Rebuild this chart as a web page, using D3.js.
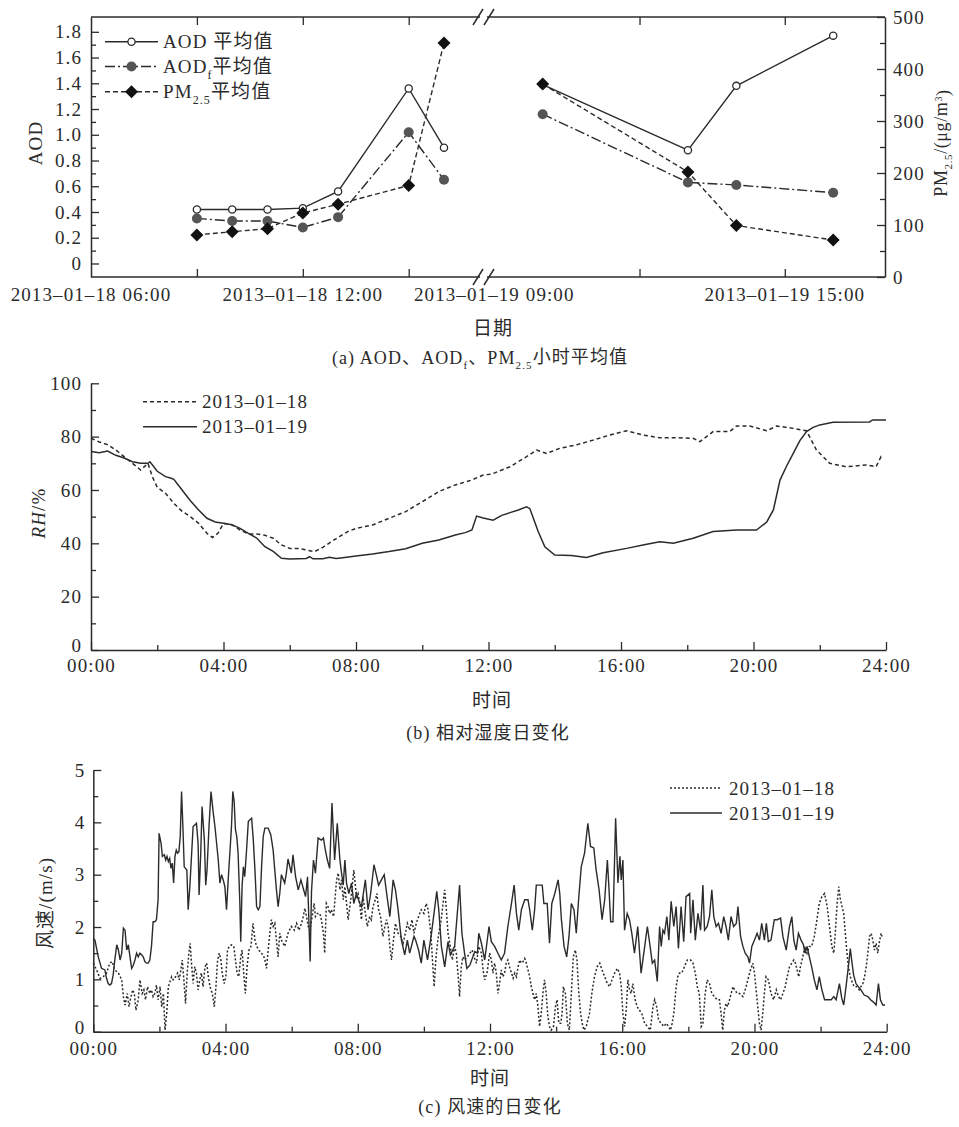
<!DOCTYPE html>
<html><head><meta charset="utf-8">
<script src="https://cdn.jsdelivr.net/npm/d3@7"></script>
<style>
body{margin:0;background:#fff;}
svg text{letter-spacing:1.1px;}
</style></head><body>
<script>
// ---------------- data: panel (a) ----------------
const hoursDay18 = [9, 10, 11, 12, 13, 15, 16];
const aodDay18   = [0.42, 0.42, 0.42, 0.43, 0.56, 1.36, 0.90];
const aodfDay18  = [0.35, 0.33, 0.33, 0.28, 0.36, 1.02, 0.65];
const pmDay18    = [81, 87, 93, 123, 140, 176, 450];
const hoursDay19 = [10, 13, 14, 16];
const aodDay19   = [1.39, 0.88, 1.38, 1.77];
const aodfDay19  = [1.16, 0.63, 0.61, 0.55];
const pmDay19    = [371, 202, 99, 71];
const aodTicks = [0, 0.2, 0.4, 0.6, 0.8, 1.0, 1.2, 1.4, 1.6, 1.8];
const pmTicks = [0, 100, 200, 300, 400, 500];
const dateLabels18 = [[6, "2013–01–18 06:00"], [12, "2013–01–18 12:00"]];
const dateLabels19 = [[9, "2013–01–19 09:00"], [15, "2013–01–19 15:00"]];

// ---------------- data: panel (b) relative humidity ----------------
const rh18 = [[0,79.4],[0.25,78],[0.5,77],[0.75,75],[1,72.5],[1.25,70],[1.5,67.5],[1.72,70],[1.85,65],[2,61],[2.25,58.75],[2.5,55],[2.75,52],[3,50],[3.25,47.5],[3.5,43.75],[3.67,42.2],[3.83,43.75],[4,47.5],[4.25,47],[4.5,45],[4.75,43.5],[5,43.5],[5.25,43],[5.5,41.9],[5.75,39.4],[6,38.1],[6.25,38.1],[6.5,37.5],[6.75,36.9],[7,38.5],[7.25,40.6],[7.5,42.5],[7.75,44.4],[8,45.6],[8.5,46.9],[9,49.4],[9.5,51.9],[10,55.6],[10.5,59.4],[11,61.9],[11.5,63.75],[11.84,65.6],[12.1,66],[12.65,68.7],[13.15,72.5],[13.45,75],[13.75,73.7],[14.15,75.6],[14.65,76.9],[15.16,78.7],[15.66,80.6],[16.17,82.2],[16.67,80.6],[17.17,79.6],[17.67,79.6],[18.18,79.4],[18.38,78.1],[18.78,81.9],[19.28,81.9],[19.49,84],[19.89,84],[20.4,82.2],[20.7,84],[21.2,83.1],[21.6,82.2],[21.9,75],[22.3,70],[22.8,68.7],[23.4,69.4],[23.7,68.7],[23.85,72.5],[23.92,71.9]];
const rh19 = [[0,74.4],[0.25,74],[0.5,74.6],[0.75,73],[1,72],[1.25,70.6],[1.5,70],[1.72,70],[1.78,70.6],[2,67],[2.25,65],[2.4,64.5],[2.5,64],[2.75,60],[3,56],[3.25,52.5],[3.5,49.4],[3.75,48],[4,47.5],[4.25,47],[4.5,45.6],[4.75,43.75],[5,42],[5.25,38.75],[5.5,37],[5.75,34.4],[6,34.1],[6.5,34.3],[6.6,35],[6.7,34.2],[7,34.2],[7.2,34.8],[7.4,34.3],[7.6,34.6],[8,35.25],[8.5,36],[9,36.9],[9.5,38],[10,40],[10.5,41.25],[11,43.1],[11.3,44],[11.5,45],[11.64,50.2],[11.84,49.5],[12.14,48.7],[12.4,50.5],[12.65,51.5],[12.9,52.5],[13.15,53.7],[13.25,53],[13.5,44.4],[13.7,38.7],[14.0,35.6],[14.5,35.4],[14.96,34.7],[15.46,36.5],[16.17,38.1],[16.7,39.5],[17.17,40.6],[17.58,40],[18.18,41.9],[18.78,44.4],[19.49,45],[20.09,45],[20.4,48],[20.6,52.5],[20.8,63.7],[21.0,69],[21.2,73.7],[21.4,78.5],[21.6,81.9],[21.8,83.5],[22.0,84.4],[22.4,85.4],[23.5,85.5],[23.6,86.25],[24,86.25]];

// ---------------- data: panel (c) wind speed ----------------
const wind18 = [[0.00,1.31],[0.10,1.18],[0.20,1.02],[0.30,1.05],[0.40,1.12],[0.50,1.31],[0.57,1.34],[0.65,1.18],[0.76,1.12],[0.86,0.99],[0.91,0.67],[0.96,0.51],[1.03,0.73],[1.08,0.48],[1.14,0.67],[1.19,0.80],[1.24,0.73],[1.29,0.41],[1.36,0.61],[1.41,0.99],[1.48,0.73],[1.53,0.80],[1.58,0.61],[1.64,0.86],[1.71,0.73],[1.76,0.80],[1.81,0.67],[1.86,0.73],[1.91,0.89],[1.96,0.61],[2.02,0.86],[2.07,0.48],[2.12,0.73],[2.17,0.03],[2.22,0.35],[2.27,0.86],[2.32,0.96],[2.37,1.05],[2.42,0.99],[2.49,1.05],[2.55,1.12],[2.60,0.99],[2.65,1.18],[2.69,1.37],[2.74,0.99],[2.79,0.54],[2.84,1.12],[2.89,1.50],[2.93,1.69],[2.97,1.31],[3.02,0.92],[3.07,1.24],[3.12,1.12],[3.17,0.80],[3.22,0.99],[3.27,1.12],[3.32,0.86],[3.38,1.24],[3.43,1.31],[3.48,1.05],[3.53,0.86],[3.60,0.73],[3.66,0.48],[3.71,0.86],[3.76,1.37],[3.81,1.50],[3.86,1.37],[3.90,1.12],[3.96,0.92],[4.01,1.05],[4.06,1.56],[4.11,1.63],[4.18,1.66],[4.25,1.63],[4.30,1.37],[4.35,1.12],[4.40,1.05],[4.46,1.43],[4.50,1.56],[4.55,1.12],[4.60,0.73],[4.65,1.24],[4.71,1.56],[4.77,1.63],[4.83,2.07],[4.89,1.75],[4.94,1.63],[5.01,1.56],[5.07,1.50],[5.14,1.47],[5.19,1.37],[5.24,1.21],[5.29,1.56],[5.34,1.88],[5.39,2.14],[5.44,2.01],[5.49,2.07],[5.54,1.75],[5.59,1.43],[5.64,1.88],[5.69,1.75],[5.79,1.63],[5.89,1.88],[5.99,2.01],[6.08,1.94],[6.15,2.07],[6.22,1.94],[6.30,2.07],[6.35,2.20],[6.40,2.36],[6.45,2.20],[6.50,2.01],[6.55,1.94],[6.62,2.20],[6.68,2.45],[6.72,2.20],[6.78,2.26],[6.85,2.26],[6.90,2.14],[6.96,1.88],[7.00,1.50],[7.05,2.45],[7.10,2.39],[7.15,2.26],[7.20,2.33],[7.27,2.20],[7.30,2.45],[7.36,2.90],[7.41,3.03],[7.46,2.71],[7.51,2.90],[7.56,2.52],[7.61,2.77],[7.66,2.45],[7.71,2.14],[7.76,2.39],[7.81,2.64],[7.88,3.09],[7.96,2.58],[8.01,2.64],[8.06,2.45],[8.11,2.14],[8.16,2.58],[8.23,2.26],[8.29,2.01],[8.36,2.20],[8.41,2.14],[8.46,2.39],[8.53,2.52],[8.58,2.64],[8.63,2.33],[8.69,2.20],[8.76,1.82],[8.82,2.01],[8.87,2.14],[8.92,2.01],[8.97,1.63],[9.02,1.37],[9.08,1.75],[9.14,2.07],[9.22,1.88],[9.30,1.82],[9.37,1.69],[9.44,1.88],[9.50,2.07],[9.57,1.94],[9.64,2.14],[9.70,1.88],[9.77,2.07],[9.84,2.20],[9.92,2.33],[10.00,2.26],[10.07,2.45],[10.13,2.33],[10.21,1.88],[10.26,1.37],[10.31,0.86],[10.36,1.37],[10.40,1.63],[10.45,1.88],[10.51,2.07],[10.58,2.45],[10.63,2.71],[10.68,2.33],[10.73,1.88],[10.80,1.63],[10.86,1.37],[10.93,1.63],[10.98,1.50],[11.03,1.12],[11.08,0.67],[11.13,1.24],[11.18,1.43],[11.23,1.37],[11.31,1.43],[11.39,1.50],[11.46,1.56],[11.52,1.43],[11.59,1.31],[11.66,1.63],[11.74,1.50],[11.79,1.18],[11.84,0.99],[11.91,1.12],[11.99,1.50],[12.04,1.37],[12.09,1.12],[12.14,1.31],[12.19,1.12],[12.24,0.73],[12.29,0.92],[12.34,1.18],[12.39,1.05],[12.44,1.12],[12.49,1.31],[12.54,1.37],[12.59,1.24],[12.65,1.12],[12.70,1.02],[12.75,1.12],[12.80,1.05],[12.85,1.24],[12.90,1.37],[12.95,1.31],[13.00,1.34],[13.05,1.40],[13.10,1.31],[13.15,1.18],[13.20,1.05],[13.25,0.86],[13.30,0.73],[13.35,0.61],[13.40,0.73],[13.45,0.48],[13.50,0.10],[13.55,0.35],[13.60,0.73],[13.65,0.99],[13.70,0.73],[13.75,0.29],[13.80,0.10],[13.85,0.03],[13.92,0.10],[13.98,0.48],[14.03,0.61],[14.08,0.16],[14.14,0.16],[14.18,0.35],[14.22,0.86],[14.28,0.73],[14.34,0.16],[14.40,0.03],[14.46,0.73],[14.52,1.43],[14.58,1.56],[14.63,1.37],[14.68,0.80],[14.74,0.35],[14.79,0.16],[14.84,0.03],[14.91,0.10],[15.01,0.35],[15.08,0.73],[15.16,1.05],[15.24,1.24],[15.32,1.31],[15.39,1.18],[15.47,1.05],[15.55,0.92],[15.62,0.86],[15.69,0.99],[15.77,1.12],[15.85,1.21],[15.92,1.12],[15.97,0.86],[16.02,0.35],[16.07,0.10],[16.12,0.41],[16.17,0.99],[16.22,0.80],[16.27,0.73],[16.32,0.92],[16.39,0.61],[16.45,0.48],[16.52,0.41],[16.59,0.35],[16.68,0.16],[16.76,0.10],[16.85,0.03],[16.93,0.48],[16.98,0.61],[17.04,0.48],[17.10,0.22],[17.18,0.16],[17.26,0.10],[17.33,0.16],[17.40,0.10],[17.46,0.03],[17.51,0.16],[17.56,0.35],[17.63,0.86],[17.68,1.05],[17.73,1.12],[17.80,1.12],[17.88,1.24],[17.97,1.37],[18.07,1.37],[18.14,1.31],[18.21,1.12],[18.27,0.86],[18.33,0.73],[18.39,0.10],[18.44,0.16],[18.51,0.73],[18.57,0.99],[18.64,0.92],[18.71,0.73],[18.79,0.67],[18.87,0.61],[18.94,0.61],[18.99,0.35],[19.04,0.03],[19.09,0.41],[19.14,0.54],[19.19,0.48],[19.27,0.67],[19.35,0.86],[19.40,0.80],[19.48,0.73],[19.55,0.73],[19.65,0.67],[19.72,0.80],[19.80,0.99],[19.88,1.18],[19.95,1.31],[20.00,1.12],[20.05,0.80],[20.10,0.48],[20.15,0.16],[20.20,0.03],[20.25,0.35],[20.30,0.73],[20.35,1.05],[20.42,0.99],[20.50,0.73],[20.58,0.61],[20.66,0.80],[20.73,0.67],[20.79,0.61],[20.86,0.73],[20.93,0.86],[20.99,1.05],[21.06,1.24],[21.13,1.31],[21.19,1.37],[21.24,1.31],[21.29,1.18],[21.34,1.05],[21.39,1.24],[21.46,1.43],[21.53,1.63],[21.59,1.50],[21.66,1.63],[21.73,1.63],[21.81,1.82],[21.89,2.14],[21.96,2.45],[22.04,2.58],[22.12,2.64],[22.20,2.39],[22.27,2.01],[22.34,1.63],[22.40,1.50],[22.45,1.94],[22.50,2.45],[22.55,2.77],[22.60,2.52],[22.65,2.39],[22.70,2.26],[22.74,1.94],[22.79,1.56],[22.84,1.24],[22.90,1.05],[22.97,0.92],[23.02,0.86],[23.10,0.86],[23.17,0.80],[23.22,0.86],[23.28,0.92],[23.33,1.05],[23.38,1.24],[23.43,1.50],[23.48,1.82],[23.53,1.88],[23.58,1.75],[23.63,1.56],[23.68,1.69],[23.73,1.50],[23.78,1.72],[23.83,1.88],[23.86,1.82]];
const wind19 = [[0.00,1.78],[0.05,1.75],[0.15,1.43],[0.25,1.21],[0.35,1.18],[0.40,1.02],[0.45,0.92],[0.50,0.89],[0.55,0.92],[0.60,1.08],[0.65,1.37],[0.71,1.66],[0.76,1.56],[0.81,1.37],[0.86,1.50],[0.91,1.98],[0.96,1.94],[1.01,1.56],[1.06,1.66],[1.11,1.43],[1.16,1.21],[1.21,1.27],[1.26,1.37],[1.31,1.50],[1.36,1.43],[1.41,1.50],[1.46,1.47],[1.51,1.43],[1.56,1.34],[1.61,1.31],[1.66,1.31],[1.71,1.37],[1.76,1.63],[1.81,2.10],[1.86,2.10],[1.91,2.14],[1.96,2.52],[1.99,3.79],[2.05,3.60],[2.09,3.35],[2.15,3.38],[2.19,3.28],[2.23,3.35],[2.27,3.25],[2.31,3.31],[2.35,3.12],[2.39,3.22],[2.43,2.84],[2.47,3.35],[2.51,3.47],[2.55,3.41],[2.59,3.44],[2.63,3.73],[2.67,4.59],[2.71,3.92],[2.75,3.15],[2.79,3.12],[2.83,3.09],[2.87,2.33],[2.92,2.77],[2.97,3.35],[3.02,3.92],[3.07,3.95],[3.12,3.98],[3.17,3.60],[3.20,2.61],[3.25,3.41],[3.29,4.30],[3.36,3.66],[3.40,2.80],[3.44,3.09],[3.50,3.92],[3.56,4.59],[3.63,4.17],[3.68,3.92],[3.73,3.60],[3.78,3.28],[3.83,2.84],[3.88,3.00],[3.93,2.90],[3.98,2.77],[4.03,2.33],[4.08,2.90],[4.13,3.41],[4.18,3.92],[4.22,4.59],[4.26,4.40],[4.30,3.86],[4.34,3.73],[4.38,3.41],[4.43,2.52],[4.46,1.72],[4.50,2.77],[4.54,3.15],[4.58,2.96],[4.63,3.41],[4.69,4.02],[4.79,4.08],[4.84,3.66],[4.89,3.09],[4.94,2.39],[4.99,2.33],[5.04,2.39],[5.09,3.15],[5.14,3.73],[5.19,3.89],[5.29,3.89],[5.37,3.76],[5.44,3.47],[5.49,3.09],[5.54,2.71],[5.59,2.39],[5.64,2.64],[5.69,3.00],[5.79,2.84],[5.84,3.03],[5.89,3.30],[5.99,3.03],[6.04,3.38],[6.12,2.96],[6.20,2.71],[6.28,2.90],[6.35,2.74],[6.42,2.58],[6.48,2.96],[6.56,1.34],[6.60,2.68],[6.66,3.28],[6.72,3.03],[6.80,3.70],[6.90,3.66],[6.96,3.70],[7.02,3.47],[7.08,3.28],[7.15,3.12],[7.22,4.37],[7.30,3.28],[7.38,3.98],[7.46,3.28],[7.51,3.03],[7.56,2.80],[7.61,3.28],[7.66,2.84],[7.73,2.64],[7.81,2.84],[7.88,2.45],[7.96,2.64],[8.06,2.45],[8.11,2.39],[8.23,2.90],[8.31,2.33],[8.39,2.64],[8.49,3.19],[8.56,3.00],[8.63,2.80],[8.80,3.00],[8.90,2.52],[8.97,2.20],[9.07,2.90],[9.14,2.71],[9.22,2.33],[9.32,1.75],[9.42,1.47],[9.50,1.75],[9.57,1.50],[9.70,1.82],[9.75,1.75],[9.84,1.56],[9.92,1.31],[10.00,1.75],[10.11,1.37],[10.23,1.88],[10.39,2.68],[10.45,2.33],[10.53,1.63],[10.63,1.24],[10.73,1.72],[10.80,1.47],[10.93,1.63],[11.08,2.80],[11.15,1.88],[11.23,1.50],[11.30,1.21],[11.39,1.27],[11.54,1.53],[11.62,1.50],[11.66,1.88],[11.74,1.69],[11.84,1.37],[11.97,2.01],[12.04,1.72],[12.14,1.63],[12.24,1.50],[12.34,1.37],[12.44,1.50],[12.54,2.01],[12.65,2.45],[12.73,2.80],[12.80,2.26],[12.87,1.94],[12.95,2.33],[13.05,2.52],[13.15,2.52],[13.20,2.33],[13.28,1.94],[13.35,2.33],[13.40,2.80],[13.50,2.80],[13.58,2.80],[13.63,2.45],[13.73,2.45],[13.80,1.69],[13.87,2.45],[13.96,2.64],[14.06,2.90],[14.11,2.64],[14.16,2.14],[14.24,1.63],[14.32,1.43],[14.39,1.82],[14.46,2.45],[14.54,2.33],[14.61,1.88],[14.68,2.52],[14.76,3.15],[14.86,3.41],[14.96,3.98],[15.04,3.54],[15.14,3.51],[15.21,3.09],[15.30,2.71],[15.39,2.14],[15.47,2.52],[15.55,3.28],[15.59,2.84],[15.65,2.10],[15.72,2.10],[15.80,4.08],[15.87,2.84],[15.93,3.35],[15.97,2.90],[16.02,3.28],[16.07,1.94],[16.15,2.26],[16.22,2.14],[16.29,1.88],[16.37,1.50],[16.47,2.01],[16.57,1.12],[16.68,1.63],[16.76,2.01],[16.83,1.69],[16.91,1.31],[16.98,1.37],[17.06,0.96],[17.13,2.01],[17.18,1.63],[17.23,1.94],[17.28,1.88],[17.35,2.20],[17.41,1.75],[17.48,2.49],[17.56,2.01],[17.63,2.39],[17.70,1.59],[17.78,2.39],[17.86,1.72],[17.93,2.58],[18.04,2.64],[18.07,1.88],[18.14,2.52],[18.21,1.75],[18.29,2.26],[18.37,1.94],[18.44,2.80],[18.49,1.94],[18.57,2.01],[18.64,2.20],[18.71,2.71],[18.77,2.20],[18.84,2.01],[18.91,2.07],[18.99,1.88],[19.07,2.20],[19.14,2.01],[19.21,1.75],[19.29,2.20],[19.37,2.01],[19.45,2.07],[19.50,2.39],[19.58,1.82],[19.65,1.63],[19.72,1.50],[19.80,1.43],[19.85,1.31],[19.92,1.63],[20.00,1.75],[20.08,1.88],[20.15,1.75],[20.22,2.07],[20.30,1.75],[20.36,2.07],[20.42,1.72],[20.50,1.75],[20.60,2.14],[20.69,2.14],[20.79,2.17],[20.86,1.82],[20.96,1.56],[21.06,2.01],[21.13,2.20],[21.19,1.75],[21.26,1.56],[21.33,1.88],[21.41,1.75],[21.48,1.66],[21.53,1.50],[21.59,1.63],[21.66,1.43],[21.73,1.24],[21.81,0.99],[21.89,0.80],[21.96,1.05],[22.04,0.80],[22.12,0.61],[22.22,0.61],[22.32,0.61],[22.40,0.67],[22.47,0.61],[22.57,0.92],[22.64,0.64],[22.70,0.51],[22.77,0.86],[22.84,1.24],[22.90,1.59],[22.94,1.37],[23.00,1.08],[23.07,0.92],[23.14,0.86],[23.22,0.80],[23.32,0.70],[23.43,0.67],[23.51,0.61],[23.59,0.57],[23.68,0.51],[23.75,0.92],[23.81,0.61],[23.88,0.51],[23.95,0.51]];

const hourTicks = [0, 4, 8, 12, 16, 20, 24];
const hourMinor = [2, 6, 10, 14, 18, 22];
const rhTicks = [0, 20, 40, 60, 80, 100];
const windTicks = [0, 1, 2, 3, 4, 5];
const seriesNames = ["2013–01–18", "2013–01–19"];

// ---------------- drawing ----------------
const FF = '"Liberation Serif","Noto Sans CJK SC",serif';
const FS = 19;
const ink = "#2b2b2b";
const svg = d3.select("body").append("svg").attr("width", 959).attr("height", 1127)
  .style("font-family", FF).style("background", "#fff");

function styleAxis(g) {
  g.attr("font-family", null).attr("font-size", null);
  g.selectAll(".domain").attr("stroke", ink).attr("stroke-width", 1.5);
  g.selectAll(".tick line").attr("stroke", ink).attr("stroke-width", 1.3);
  g.selectAll("text").attr("font-size", FS).attr("fill", ink).style("font-family", FF);
  return g;
}
// lift the "0" label of a left axis a little so it sits above the time labels
function liftZero(g) {
  g.selectAll(".tick").filter(d => d === 0).select("text").attr("dy", "0.1em");
  return g;
}
const hfmt = h => String(h).padStart(2, "0") + ":00";

function addText(x, y, str, opts = {}) {
  return svg.append("text").attr("x", x).attr("y", y).attr("fill", ink)
    .attr("font-size", opts.fs || FS).attr("text-anchor", opts.anchor || "start")
    .attr("dy", "0.35em").text(str);
}

// ===== Panel (a) =====
const aL = 91, aR = 885, aT = 17, aB = 277, brk1 = 480, brk2 = 487;
const yAOD = d3.scaleLinear().domain([-0.105, 1.915]).range([aB, aT]);
const yPM = d3.scaleLinear().domain([0, 500]).range([aB, aT]);
const xL = d3.scaleLinear().domain([6, 17.02]).range([aL, brk1]);
const xR = d3.scaleLinear().domain([8.85, 17.07]).range([brk2, aR]);

// frame
const frame = svg.append("g").attr("stroke", ink).attr("stroke-width", 1.5);
[[aL, brk1], [brk2, aR]].forEach(([a, b]) => {
  frame.append("line").attr("x1", a).attr("x2", b).attr("y1", aT).attr("y2", aT);
  frame.append("line").attr("x1", a).attr("x2", b).attr("y1", aB).attr("y2", aB);
});
[aT, aB].forEach(y => {
  [brk1 - 2, brk2 + 2].forEach(x => {
    frame.append("line").attr("x1", x - 5).attr("y1", y + 8).attr("x2", x + 5).attr("y2", y - 8);
  });
});

// left AOD axis
styleAxis(svg.append("g").attr("transform", `translate(${aL},0)`)
  .call(d3.axisLeft(yAOD).tickValues(aodTicks).tickSize(-8).tickSizeOuter(0).tickPadding(9)
    .tickFormat(d => d === 0 ? "0" : d3.format(".1f")(d))));
styleAxis(svg.append("g").attr("transform", `translate(${aL},0)`)
  .call(d3.axisLeft(yAOD).tickValues(d3.range(0.1, 1.9, 0.2)).tickSize(-5).tickSizeOuter(0).tickFormat("")))
  .select(".domain").remove();
// right PM axis
styleAxis(svg.append("g").attr("transform", `translate(${aR},0)`)
  .call(d3.axisRight(yPM).tickValues(pmTicks).tickSize(-8).tickSizeOuter(0).tickPadding(8)));
styleAxis(svg.append("g").attr("transform", `translate(${aR},0)`)
  .call(d3.axisRight(yPM).tickValues([50, 150, 250, 350, 450]).tickSize(-5).tickSizeOuter(0).tickFormat("")))
  .select(".domain").remove();
// x ticks (top & bottom) for both segments
[[xL, [9, 12, 15], dateLabels18], [xR, [12, 15], dateLabels19]].forEach(([sc, tv, labs]) => {
  styleAxis(svg.append("g").attr("transform", `translate(0,${aB})`)
    .call(d3.axisBottom(sc).tickValues(tv).tickSize(-8).tickSizeOuter(0).tickFormat(""))).select(".domain").remove();
  styleAxis(svg.append("g").attr("transform", `translate(0,${aT})`)
    .call(d3.axisTop(sc).tickValues(tv).tickSize(-8).tickSizeOuter(0).tickFormat(""))).select(".domain").remove();
  labs.forEach(([h, t]) => addText(sc(h), 294, t, { anchor: "middle" }));
});

// series lines
const lineL = (vals, ys) => d3.line().x((d, i) => xL(hoursDay18[i])).y(d => ys(d))(vals);
const lineR = (vals, ys) => d3.line().x((d, i) => xR(hoursDay19[i])).y(d => ys(d))(vals);
const styles = {
  aod: { dash: null }, aodf: { dash: "10,3,2,3" }, pm: { dash: "5,3" }
};
const gA = svg.append("g");
function drawSeries(path, dash) {
  gA.append("path").attr("d", path).attr("fill", "none").attr("stroke", ink)
    .attr("stroke-width", 1.4).attr("stroke-dasharray", dash);
}
drawSeries(lineL(aodDay18, yAOD), null);
drawSeries(lineR(aodDay19, yAOD), null);
drawSeries(lineL(aodfDay18, yAOD), styles.aodf.dash);
drawSeries(lineR(aodfDay19, yAOD), styles.aodf.dash);
drawSeries(lineL(pmDay18, yPM), styles.pm.dash);
drawSeries(lineR(pmDay19, yPM), styles.pm.dash);

const diamond = s => `M0,${-s}L${s},0L0,${s}L${-s},0Z`;
function openCircle(g, x, y) { g.append("circle").attr("cx", x).attr("cy", y).attr("r", 3.6).attr("fill", "#fff").attr("stroke", ink).attr("stroke-width", 1.3); }
function fillCircle(g, x, y) { g.append("circle").attr("cx", x).attr("cy", y).attr("r", 5).attr("fill", "#555"); }
function dia(g, x, y) { g.append("path").attr("d", diamond(6.5)).attr("transform", `translate(${x},${y})`).attr("fill", "#111"); }

hoursDay18.forEach((h, i) => { openCircle(gA, xL(h), yAOD(aodDay18[i])); });
hoursDay19.forEach((h, i) => { openCircle(gA, xR(h), yAOD(aodDay19[i])); });
hoursDay18.forEach((h, i) => { fillCircle(gA, xL(h), yAOD(aodfDay18[i])); });
hoursDay19.forEach((h, i) => { fillCircle(gA, xR(h), yAOD(aodfDay19[i])); });
hoursDay18.forEach((h, i) => { dia(gA, xL(h), yPM(pmDay18[i])); });
hoursDay19.forEach((h, i) => { dia(gA, xR(h), yPM(pmDay19[i])); });

// legend (a)
const legA = svg.append("g");
[[41.7, null, openCircle], [66.5, styles.aodf.dash, fillCircle], [91.7, styles.pm.dash, dia]].forEach(([y, dash, mk]) => {
  legA.append("line").attr("x1", 105).attr("x2", 158).attr("y1", y).attr("y2", y)
    .attr("stroke", ink).attr("stroke-width", 1.4).attr("stroke-dasharray", dash);
  mk(legA, 131.5, y);
});
addText(163, 41.7, "AOD 平均值");
{
  const t = addText(163, 66.5, "AOD");
  t.append("tspan").attr("font-size", 12).attr("dy", "0.45em").text("f");
  t.append("tspan").attr("dy", "-0.3em").text("平均值");
  const t2 = addText(163, 91.7, "PM");
  t2.append("tspan").attr("font-size", 12).attr("dy", "0.45em").text("2.5");
  t2.append("tspan").attr("dy", "-0.3em").text("平均值");
}
// axis titles (a)
svg.append("text").attr("transform", "translate(35,143) rotate(-90)").attr("text-anchor", "middle")
  .attr("dy", "0.35em").attr("font-size", FS).attr("fill", ink).text("AOD");
{
  const t = svg.append("text").attr("transform", "translate(941,143) rotate(-90)").attr("text-anchor", "middle")
    .attr("dy", "0.35em").attr("font-size", 18).attr("fill", ink).style("letter-spacing", "0.6px").text("PM");
  t.append("tspan").attr("font-size", 11).attr("dy", "0.4em").text("2.5");
  t.append("tspan").attr("dy", "-0.25em").text("/(μg/m");
  t.append("tspan").attr("font-size", 10).attr("dy", "-0.5em").text("3");
  t.append("tspan").attr("dy", "0.4em").text(")");
}
addText(493, 328, "日期", { anchor: "middle" });
{
  const t = addText(480, 358, "(a) AOD、AOD", { anchor: "middle", fs: 18 });
  t.append("tspan").attr("font-size", 11).attr("dy", "0.45em").text("f");
  t.append("tspan").attr("dy", "-0.3em").text("、PM");
  t.append("tspan").attr("font-size", 11).attr("dy", "0.45em").text("2.5");
  t.append("tspan").attr("dy", "-0.3em").text("小时平均值");
}

// ===== Panel (b) =====
const bL = 91, bR = 886, bT = 383.3, bB = 650;
const xB = d3.scaleLinear().domain([0, 24]).range([bL, bR]);
const yB = d3.scaleLinear().domain([0, 100]).range([bB, bT]);
styleAxis(svg.append("g").attr("transform", `translate(0,${bB})`)
  .call(d3.axisBottom(xB).tickValues(hourTicks).tickSize(-8).tickSizeOuter(0).tickPadding(9).tickFormat(hfmt)));
styleAxis(svg.append("g").attr("transform", `translate(0,${bB})`)
  .call(d3.axisBottom(xB).tickValues(hourMinor).tickSize(-5).tickSizeOuter(0).tickFormat(""))).select(".domain").remove();
liftZero(styleAxis(svg.append("g").attr("transform", `translate(${bL},0)`)
  .call(d3.axisLeft(yB).tickValues(rhTicks).tickSize(-8).tickSizeOuter(0).tickPadding(9))));
styleAxis(svg.append("g").attr("transform", `translate(${bL},0)`)
  .call(d3.axisLeft(yB).tickValues([10, 30, 50, 70, 90]).tickSize(-5).tickSizeOuter(0).tickFormat(""))).select(".domain").remove();
const lineB = d3.line().x(d => xB(d[0])).y(d => yB(d[1]));
svg.append("path").attr("d", lineB(rh18)).attr("fill", "none").attr("stroke", ink).attr("stroke-width", 1.5).attr("stroke-dasharray", "4,3");
svg.append("path").attr("d", lineB(rh19)).attr("fill", "none").attr("stroke", ink).attr("stroke-width", 1.5);
// legend (b)
[[401.7, "4,3"], [426.7, null]].forEach(([y, dash], i) => {
  svg.append("line").attr("x1", 143).attr("x2", 197).attr("y1", y).attr("y2", y)
    .attr("stroke", ink).attr("stroke-width", 1.4).attr("stroke-dasharray", dash);
  addText(202, y, seriesNames[i]);
});
{
  const t = svg.append("text").attr("transform", "translate(38,513) rotate(-90)").attr("text-anchor", "middle")
    .attr("dy", "0.35em").attr("font-size", FS).attr("fill", ink);
  t.append("tspan").attr("font-style", "italic").text("RH");
  t.append("tspan").text("/%");
}
addText(492, 700, "时间", { anchor: "middle" });
addText(488, 733, "(b) 相对湿度日变化", { anchor: "middle", fs: 18 });

// ===== Panel (c) =====
const cL = 93.3, cR = 886.7, cT = 770, cB = 1031.7;
const xC = d3.scaleLinear().domain([0, 24]).range([cL, cR]);
const yC = d3.scaleLinear().domain([0, 5]).range([cB, cT]);
styleAxis(svg.append("g").attr("transform", `translate(0,${cB})`)
  .call(d3.axisBottom(xC).tickValues(hourTicks).tickSize(-8).tickSizeOuter(0).tickPadding(10).tickFormat(hfmt)));
styleAxis(svg.append("g").attr("transform", `translate(0,${cB})`)
  .call(d3.axisBottom(xC).tickValues(hourMinor).tickSize(-5).tickSizeOuter(0).tickFormat(""))).select(".domain").remove();
liftZero(styleAxis(svg.append("g").attr("transform", `translate(${cL},0)`)
  .call(d3.axisLeft(yC).tickValues(windTicks).tickSize(-8).tickSizeOuter(0).tickPadding(8).tickFormat(d3.format("d")))));
styleAxis(svg.append("g").attr("transform", `translate(${cL},0)`)
  .call(d3.axisLeft(yC).tickValues([0.5, 1.5, 2.5, 3.5, 4.5]).tickSize(-5).tickSizeOuter(0).tickFormat(""))).select(".domain").remove();
const lineC = d3.line().x(d => xC(d[0])).y(d => yC(d[1]));
svg.append("path").attr("d", lineC(wind18)).attr("fill", "none").attr("stroke", ink).attr("stroke-width", 1.5).attr("stroke-dasharray", "2,2");
svg.append("path").attr("d", lineC(wind19)).attr("fill", "none").attr("stroke", ink).attr("stroke-width", 1.4);
[[788, "2,2"], [813, null]].forEach(([y, dash], i) => {
  svg.append("line").attr("x1", 670).attr("x2", 722).attr("y1", y).attr("y2", y)
    .attr("stroke", ink).attr("stroke-width", 1.4).attr("stroke-dasharray", dash);
  addText(729, y, seriesNames[i]);
});
svg.append("text").attr("transform", "translate(45,903) rotate(-90)").attr("text-anchor", "middle")
  .attr("dy", "0.35em").attr("font-size", FS).attr("fill", ink).text("风速/(m/s)");
addText(490, 1078, "时间", { anchor: "middle" });
addText(490, 1107, "(c) 风速的日变化", { anchor: "middle", fs: 18 });
</script>
</body></html>
